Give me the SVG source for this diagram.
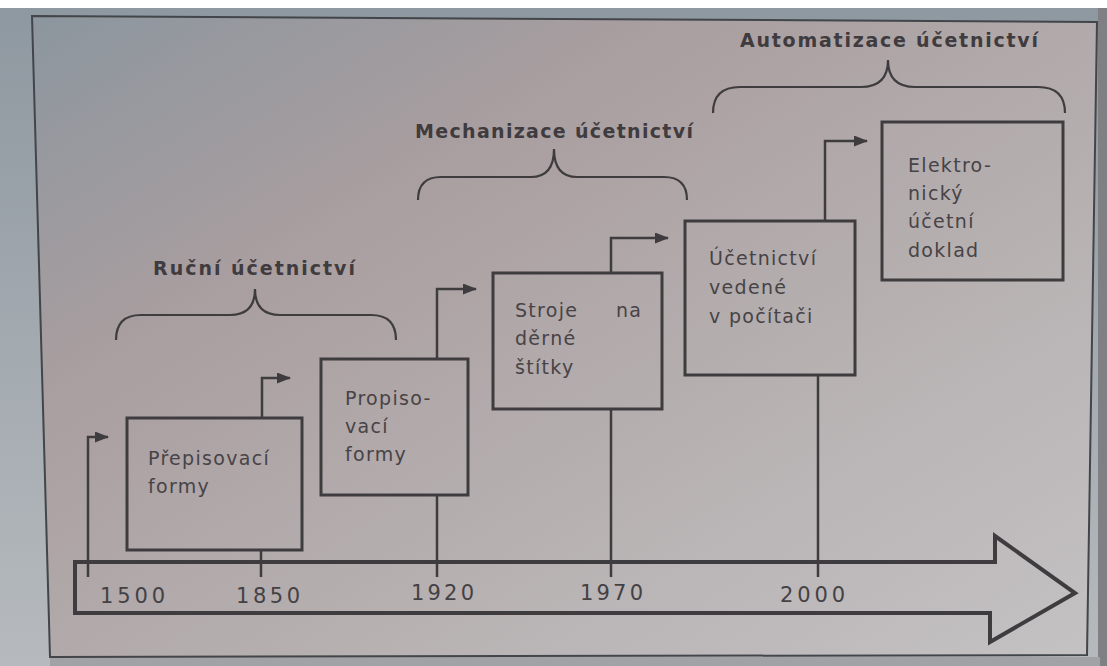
<svg xmlns="http://www.w3.org/2000/svg" width="1107" height="666" viewBox="0 0 1107 666">
  <defs>
    <linearGradient id="bg" x1="0" y1="0" x2="1" y2="1">
      <stop offset="0" stop-color="#8c969e"/>
      <stop offset="0.3" stop-color="#a99ea0"/>
      <stop offset="0.65" stop-color="#b7b1b2"/>
      <stop offset="1" stop-color="#c4c2c3"/>
    </linearGradient>
    <linearGradient id="edge" x1="0" y1="0" x2="0" y2="1">
      <stop offset="0" stop-color="#8e98a0"/>
      <stop offset="1" stop-color="#b6babe"/>
    </linearGradient>
    <marker id="ah" viewBox="0 0 14 11" refX="13" refY="5.5" markerWidth="14" markerHeight="11" markerUnits="userSpaceOnUse" orient="auto">
      <path d="M0,0 L14,5.5 L0,11 Z" fill="#3f3c3f"/>
    </marker>
    <style>
      .ln{fill:none;stroke:#3f3c3f;stroke-width:2.5}
      .box{fill:none;stroke:#3f3c3f;stroke-width:3}
      .brace{fill:none;stroke:#3f3c3f;stroke-width:2.2}
      .t{font-family:"DejaVu Sans","Verdana",sans-serif;font-size:19px;fill:#474346;letter-spacing:1.3px}
      .h{font-family:"DejaVu Sans","Verdana",sans-serif;font-size:19px;font-weight:bold;fill:#3f3b3e}
      .y{font-family:"DejaVu Sans","Verdana",sans-serif;font-size:21px;fill:#444145}
    </style>
  </defs>

  <!-- photo background -->
  <rect x="0" y="0" width="1107" height="666" fill="url(#edge)"/>
  <rect x="0" y="0" width="1107" height="8" fill="#ffffff"/>
  <rect x="1098" y="8" width="9" height="658" fill="#808084"/>
  <polygon points="32,16 1097,22 1087,655 50,657" fill="url(#bg)"/>
  <rect x="50" y="657" width="1050" height="9" fill="#a0a2a6"/>
  <polygon points="32,16 1097,22 1087,655 50,657" fill="none" stroke="#42464a" stroke-width="2"/>

  <!-- timeline arrow -->
  <g id="timeline">
    <polygon points="75,562 995,562 995,536 1075,593 990,642 990,613 75,613" fill="none" stroke="#3f3c3f" stroke-width="4" stroke-linejoin="miter"/>
    <text class="y" x="100" y="603" textLength="65" lengthAdjust="spacing">1500</text>
    <text class="y" x="236" y="603" textLength="64" lengthAdjust="spacing">1850</text>
    <text class="y" x="411" y="600" textLength="63" lengthAdjust="spacing">1920</text>
    <text class="y" x="580" y="600" textLength="63" lengthAdjust="spacing">1970</text>
    <text class="y" x="780" y="602" textLength="65" lengthAdjust="spacing">2000</text>
  </g>

  <!-- connectors -->
  <g id="connectors">
    <path class="ln" d="M88,577 L88,437 L108,437" marker-end="url(#ah)"/>
    <path class="ln" d="M261,577 L261,550"/>
    <path class="ln" d="M262,418 L262,378 L290,378" marker-end="url(#ah)"/>
    <path class="ln" d="M437,577 L437,495"/>
    <path class="ln" d="M437,359 L437,289 L476,289" marker-end="url(#ah)"/>
    <path class="ln" d="M611,577 L611,409"/>
    <path class="ln" d="M611,273 L611,238 L668,238" marker-end="url(#ah)"/>
    <path class="ln" d="M818,577 L818,375"/>
    <path class="ln" d="M825,221 L825,141 L867,141" marker-end="url(#ah)"/>
  </g>

  <!-- period braces -->
  <g id="period-rucni">
    <path class="brace" d="M116,340 Q116,315 141,315 L230,315 Q255,315 255,289 Q255,315 280,315 L371,315 Q396,315 396,340"/>
    <text class="h" x="153" y="275" textLength="202" lengthAdjust="spacing">Ruční účetnictví</text>
  </g>
  <g id="period-mechanizace">
    <path class="brace" d="M418,200 Q418,177 441,177 L531,177 Q554,177 554,149 Q554,177 577,177 L664,177 Q687,177 687,200"/>
    <text class="h" x="415" y="138" textLength="278" lengthAdjust="spacing">Mechanizace účetnictví</text>
  </g>
  <g id="period-automatizace">
    <path class="brace" d="M713,113 Q713,87 740,87 L861,87 Q888,87 888,60 Q888,87 915,87 L1038,87 Q1065,87 1065,113"/>
    <text class="h" x="740" y="47" textLength="298" lengthAdjust="spacing">Automatizace účetnictví</text>
  </g>

  <!-- nodes -->
  <g id="node-prepisovaci">
    <rect class="box" x="127" y="418" width="175" height="132"/>
    <text class="t" x="148" y="465">Přepisovací</text>
    <text class="t" x="148" y="493">formy</text>
  </g>
  <g id="node-propisovaci">
    <rect class="box" x="321" y="359" width="147" height="136"/>
    <text class="t" x="345" y="405">Propiso-</text>
    <text class="t" x="345" y="433">vací</text>
    <text class="t" x="345" y="461">formy</text>
  </g>
  <g id="node-stroje">
    <rect class="box" x="493" y="273" width="169" height="136"/>
    <text class="t" x="515" y="317">Stroje</text>
    <text class="t" x="616" y="317">na</text>
    <text class="t" x="515" y="345">děrné</text>
    <text class="t" x="515" y="374">štítky</text>
  </g>
  <g id="node-pocitac">
    <rect class="box" x="685" y="221" width="170" height="154"/>
    <text class="t" x="709" y="265">Účetnictví</text>
    <text class="t" x="709" y="294">vedené</text>
    <text class="t" x="709" y="323">v počítači</text>
  </g>
  <g id="node-elektronicky">
    <rect class="box" x="882" y="122" width="181" height="158"/>
    <text class="t" x="908" y="172">Elektro-</text>
    <text class="t" x="908" y="200">nický</text>
    <text class="t" x="908" y="228">účetní</text>
    <text class="t" x="908" y="257">doklad</text>
  </g>
</svg>
